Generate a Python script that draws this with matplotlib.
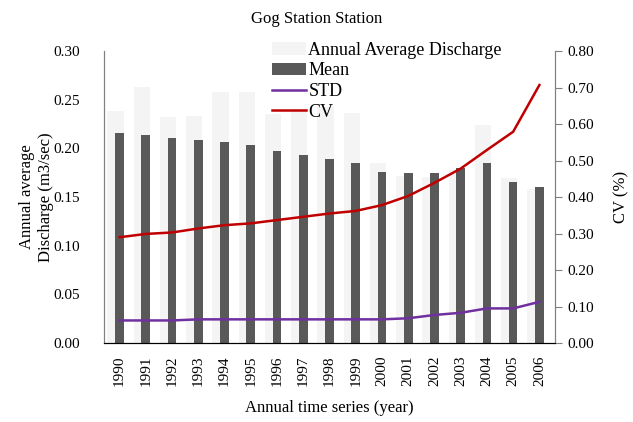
import matplotlib.pyplot as plt
import numpy as np

plt.rcParams['font.family'] = ['Liberation Serif', 'DejaVu Serif']

years = [str(y) for y in range(1990, 2007)]
annual_discharge = [0.238, 0.263, 0.232, 0.233, 0.258, 0.258, 0.235, 0.240, 0.243,
                    0.236, 0.185, 0.172, 0.171, 0.178, 0.224, 0.170, 0.158]
mean_q = [0.2155, 0.214, 0.211, 0.2086, 0.207, 0.2035, 0.1976, 0.1935, 0.1894,
          0.1847, 0.176, 0.1744, 0.1744, 0.1795, 0.1853, 0.165, 0.1606]
std_q = [0.062, 0.062, 0.062, 0.065, 0.065, 0.065, 0.065, 0.065, 0.065,
         0.065, 0.065, 0.068, 0.077, 0.083, 0.095, 0.095, 0.113]
cv_q = [0.290, 0.299, 0.303, 0.314, 0.323, 0.328, 0.337, 0.346, 0.355,
        0.362, 0.378, 0.403, 0.439, 0.478, 0.529, 0.579, 0.707]

x = np.arange(len(years))

fig = plt.figure(figsize=(6.33, 4.22), dpi=100)
ax = fig.add_axes([0.164, 0.187, 0.713, 0.692])
ax2 = ax.twinx()

ax.bar(x - 0.15, annual_discharge, width=0.62, color='#f4f4f4', label='Annual Average Discharge', zorder=1)
ax.bar(x, mean_q, width=0.33, color='#595959', label='Mean', zorder=2)
ax2.plot(x, std_q, color='#7030a0', lw=1.8, label='STD')
ax2.plot(x, cv_q, color='#c00000', lw=1.8, label='CV')

ax.set_xlim(-0.6, len(years) - 0.4)
ax.set_ylim(0, 0.30)
ax.set_yticks(np.arange(0, 0.31, 0.05))
ax.set_yticklabels([f'{v:.2f}' for v in np.arange(0, 0.31, 0.05)], fontsize=11)
ax.set_xticks(x)
ax.set_xticklabels(years, rotation=90, fontsize=11)
ax.tick_params(axis='y', length=0, pad=17)
ax.tick_params(axis='x', length=0, pad=9)

ax2.set_ylim(0, 0.80)
ax2.set_yticks(np.arange(0, 0.81, 0.10))
ax2.set_yticklabels([f'{v:.2f}' for v in np.arange(0, 0.81, 0.10)], fontsize=11)
ax2.tick_params(axis='y', length=5, color='#808080')

for a in (ax, ax2):
    a.spines['top'].set_visible(False)
    a.spines['left'].set_color('#808080')
    a.spines['right'].set_color('#808080')
    a.spines['bottom'].set_color('black')

ax.set_ylabel('Annual average\nDischarge (m3/sec)', fontsize=12, labelpad=0)
ax2.set_ylabel('CV (%)', fontsize=12, labelpad=14)
ax.set_xlabel('Annual time series (year)', fontsize=12, labelpad=10)
fig.suptitle('Gog Station Station', fontsize=12, y=0.975)

h1, l1 = ax.get_legend_handles_labels()
h2, l2 = ax2.get_legend_handles_labels()
ax2.legend(h1 + h2, l1 + l2, loc='upper left', bbox_to_anchor=(0.345, 1.075), frameon=False,
           fontsize=13, handlelength=1.9, handletextpad=0.1, labelspacing=0.2, borderpad=0.2)

fig.savefig('out.png', dpi=100)
